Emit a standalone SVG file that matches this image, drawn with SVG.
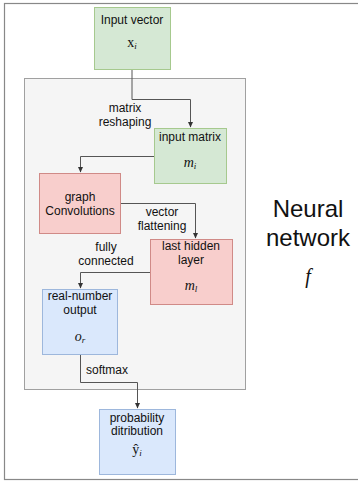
<svg xmlns="http://www.w3.org/2000/svg" width="358" height="483" viewBox="0 0 358 483">
<defs>
<marker id="ah" markerWidth="6" markerHeight="6" refX="5" refY="3" orient="auto" markerUnits="userSpaceOnUse">
<path d="M0,0.5 L5.5,3 L0,5.5 Z" fill="#333333"/>
</marker>
<style>
.lbl{font-family:"Liberation Sans",Arial,sans-serif;font-size:12px;fill:#111111;text-anchor:middle}
.math{font-family:"Liberation Serif","DejaVu Serif",serif;font-size:14px;fill:#111111;text-anchor:middle}
.green{fill:#d5e8d4;stroke:#a6c98e;stroke-width:1}
.red{fill:#f8cecc;stroke:#d08a87;stroke-width:1}
.blue{fill:#dae8fc;stroke:#9db7dc;stroke-width:1}
.conn{fill:none;stroke:#555555;stroke-width:1;marker-end:url(#ah)}
</style>
</defs>
<rect x="0" y="0" width="358" height="483" fill="#ffffff"/>
<rect id="frame" x="4.5" y="3.5" width="360" height="476" fill="none" stroke="#888888" stroke-width="1.2"/>
<g id="network">
<rect x="24.5" y="78.5" width="221" height="311" fill="#f5f5f5" stroke="#a0a0a0" stroke-width="1"/>
<text x="308" y="217" font-family="'Liberation Sans',Arial,sans-serif" font-size="24" text-anchor="middle" fill="#111">Neural</text>
<text x="308" y="246" font-family="'Liberation Sans',Arial,sans-serif" font-size="24" text-anchor="middle" fill="#111">network</text>
<text x="308" y="283" font-family="'Liberation Serif',serif" font-size="20" font-style="italic" text-anchor="middle" fill="#111">f</text>
</g>
<g id="connectors">
<path class="conn" d="M132,69.5 V99.5 H190.5 V127"/>
<path class="conn" d="M154,156.5 H80.5 V172"/>
<path class="conn" d="M120,203.5 H195.5 V238"/>
<path class="conn" d="M150,272.5 H80.5 V288"/>
<path class="conn" d="M80.5,354 V382.5 H137.5 V408"/>
<text class="lbl" x="125" y="112">matrix</text>
<text class="lbl" x="125" y="126">reshaping</text>
<text class="lbl" x="162" y="216">vector</text>
<text class="lbl" x="162" y="230">flattening</text>
<text class="lbl" x="106" y="251">fully</text>
<text class="lbl" x="106" y="265">connected</text>
<text class="lbl" x="107" y="374">softmax</text>
</g>
<g id="input-vector">
<rect class="green" x="94.5" y="7.5" width="76" height="62"/>
<text class="lbl" x="132" y="24">Input vector</text>
<text class="math" x="132" y="47">x<tspan font-style="italic" font-size="9" dy="2">i</tspan></text>
</g>
<g id="input-matrix">
<rect class="green" x="154.5" y="128.5" width="72" height="55"/>
<text class="lbl" x="190" y="141">input matrix</text>
<text class="math" x="190" y="167" font-style="italic">m<tspan font-size="9" dy="2">i</tspan></text>
</g>
<g id="graph-conv">
<rect class="red" x="39.5" y="173.5" width="81" height="60"/>
<text class="lbl" x="80" y="201">graph</text>
<text class="lbl" x="80" y="215">Convolutions</text>
</g>
<g id="last-hidden">
<rect class="red" x="150.5" y="239.5" width="82" height="65"/>
<text class="lbl" x="191" y="250">last hidden</text>
<text class="lbl" x="191" y="264">layer</text>
<text class="math" x="191" y="290" font-style="italic">m<tspan font-size="9" dy="2">l</tspan></text>
</g>
<g id="real-output">
<rect class="blue" x="42.5" y="289.5" width="75" height="65"/>
<text class="lbl" x="80" y="300">real-number</text>
<text class="lbl" x="80" y="314">output</text>
<text class="math" x="80" y="341" font-style="italic">o<tspan font-size="9" dy="2">r</tspan></text>
</g>
<g id="probability">
<rect class="blue" x="99.5" y="409.5" width="76" height="65"/>
<text class="lbl" x="137" y="422">probability</text>
<text class="lbl" x="137" y="435">ditribution</text>
<text class="math" x="137" y="454">ŷ<tspan font-style="italic" font-size="9" dy="2">i</tspan></text>
</g>
</svg>
